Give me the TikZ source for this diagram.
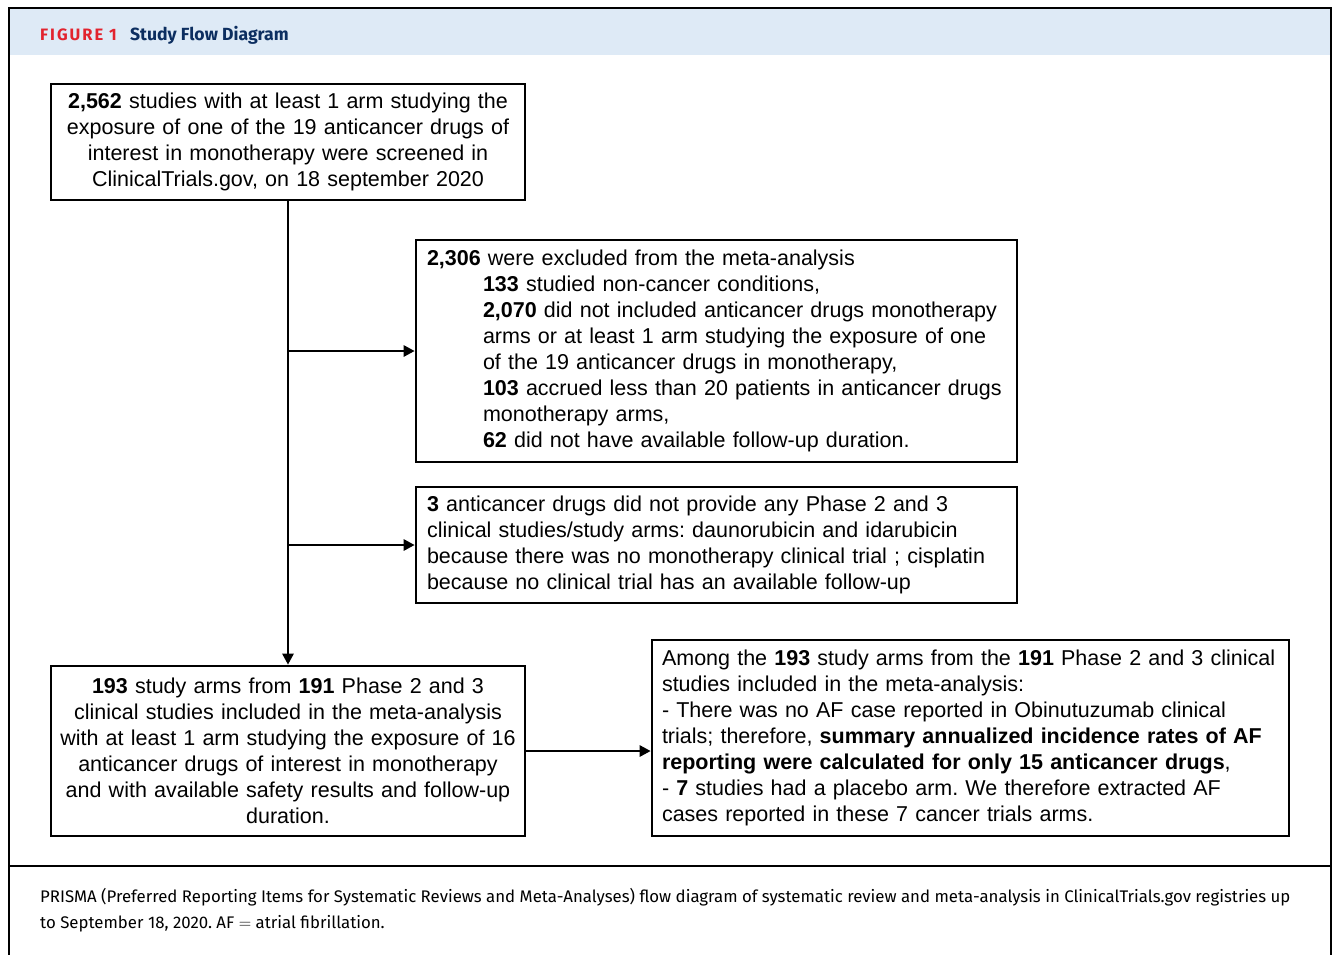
\documentclass[tikz,border=0pt]{standalone}
\usepackage{fontspec}
\setmainfont{Liberation Sans}
\newfontfamily\firafont{Fira Sans}
\usepackage{tikz}
\usetikzlibrary{arrows.meta,calc,positioning}
\frenchspacing
\definecolor{headblue}{RGB}{222,234,246}
\definecolor{figred}{RGB}{226,35,46}
\definecolor{titleblue}{RGB}{12,46,96}
\newcommand{\ind}{\hspace*{56pt}}
\tikzset{every picture/.append style={x=1pt,y=-1pt}}
\tikzset{frame/.style={line width=1.6pt}}
\tikzset{stepbox/.style={draw, line width=2.6pt, inner xsep=11pt, inner ysep=0pt, font=\fontsize{21.5}{26}\selectfont}}
\tikzset{centerbox/.style={stepbox, align=center, inner xsep=4pt}}
\tikzset{leftbox/.style={stepbox, align=left}}
\tikzset{edge/.style={line width=2.6pt}}
\tikzset{arc/.style={edge, -{Triangle[length=11pt,width=11pt]}}}
\tikzset{captext/.style={anchor=base west, inner sep=0pt, font=\firafont\fontsize{16.8}{26}\selectfont}}

\begin{document}
\begin{tikzpicture}
  \useasboundingbox (0,0) rectangle (1335,954);
  % header band and frame
  \fill[headblue] (10,9) rectangle (1330,55);
  \draw[frame] (9,960) -- (9,8) -- (1331,8) -- (1331,960);
  \draw[frame] (9,866) -- (1331,866);
  \node (fig) at (40,40)[anchor=base west, inner sep=0pt, text=figred, font=\firafont\bfseries\fontsize{16.5}{18}\selectfont\addfontfeature{LetterSpace=12}]{FIGURE 1};
  \node (title) [base right=13pt of fig, inner sep=0pt, text=titleblue, font=\firafont\bfseries\fontsize{17.6}{18}\selectfont]{Study Flow Diagram};

  % boxes
  \node (screen) at (288,142)[centerbox, minimum width=474pt, minimum height=116pt, text width=466pt]{%
    \textbf{2,562} studies with at least 1 arm studying the\\
    exposure of one of the 19 anticancer drugs of\\
    interest in monotherapy were screened in\\
    ClinicalTrials.gov, on 18 september 2020};
  \node (excl) at (716.5,351)[leftbox, minimum width=601pt, minimum height=222pt, text width=579pt]{%
    \textbf{2,306} were excluded from the meta-analysis\\
    \ind\textbf{133} studied non-cancer conditions,\\
    \ind\textbf{2,070} did not included anticancer drugs monotherapy\\
    \ind arms or at least 1 arm studying the exposure of one\\
    \ind of the 19 anticancer drugs in monotherapy,\\
    \ind\textbf{103} accrued less than 20 patients in anticancer drugs\\
    \ind monotherapy arms,\\
    \ind\textbf{62} did not have available follow-up duration.};
  \node (drugs) at (716.5,545)[leftbox, minimum width=601pt, minimum height=116pt, text width=579pt]{%
    \textbf{3} anticancer drugs did not provide any Phase 2 and 3\\
    clinical studies/study arms: daunorubicin and idarubicin\\
    because there was no monotherapy clinical trial ; cisplatin\\
    because no clinical trial has an available follow-up};
  \node (incl) at (288,751)[centerbox, minimum width=474pt, minimum height=170pt, text width=466pt]{%
    \textbf{193} study arms from \textbf{191} Phase 2 and 3\\
    clinical studies included in the meta-analysis\\
    with at least 1 arm studying the exposure of 16\\
    anticancer drugs of interest in monotherapy\\
    and with available safety results and follow-up\\
    duration.};
  \node (summary) at (970.5,738)[leftbox, minimum width=637pt, minimum height=196pt, text width=617pt, inner xsep=10pt]{%
    Among the \textbf{193} study arms from the \textbf{191} Phase 2 and 3 clinical\\
    studies included in the meta-analysis:\\
    - There was no AF case reported in Obinutuzumab clinical\\
    trials; therefore, \textbf{summary annualized incidence rates of AF}\\
    \textbf{reporting were calculated for only 15 anticancer drugs},\\
    - \textbf{7} studies had a placebo arm. We therefore extracted AF\\
    cases reported in these 7 cancer trials arms.};

  % connectors
  \coordinate (b1) at (screen.south |- excl.west);
  \coordinate (b2) at (screen.south |- drugs.west);
  \draw[arc] (screen.south) -- (incl.north);
  \draw[arc] (b1) -- (excl.west);
  \draw[arc] (b2) -- (drugs.west);
  \draw[arc] (incl.east) -- (incl.east -| summary.west);

  % caption
  \node (cap1) at (40,902)[captext]{PRISMA (Preferred Reporting Items for Systematic Reviews and Meta-Analyses) flow diagram of systematic review and meta-analysis in ClinicalTrials.gov registries up};
  \node (cap2) at (40,928)[captext]{to September 18, 2020. AF $=$ atrial fibrillation.};
\end{tikzpicture}
\end{document}
